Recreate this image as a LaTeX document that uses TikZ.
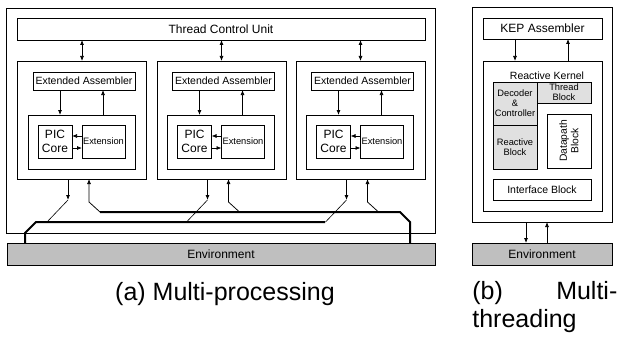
\documentclass[tikz,border=0pt]{standalone}
\usepackage{fontspec}
\setmainfont{Liberation Sans}
\usetikzlibrary{arrows.meta}

\begin{document}
\begin{tikzpicture}[x=1pt, y=-1pt, >={Latex[length=5pt,width=4pt]},
    line width=0.75pt,
    block/.style={draw, inner sep=0pt, outer sep=0pt, align=center},
    big/.style={font=\fontsize{12}{14}\selectfont},
    mid/.style={font=\fontsize{10.5}{12}\selectfont},
    small/.style={font=\fontsize{9.3}{10}\selectfont},
    shade/.style={fill=black!12},
    env/.style={block, fill=black!25, big},
    bus/.style={line width=2pt},
    wire/.style={line width=0.6pt},
    caption/.style={font=\fontsize{25}{28}\selectfont, inner sep=0pt}]
    \useasboundingbox (0,0) rectangle (621,337);

    % (a) multi-processing
    \node[block, minimum width=429pt, minimum height=225pt] (mp) at (220.5,120.5) {};
    \node[block, big, minimum width=408pt, minimum height=22pt] (tcu) at (221,29) {Thread Control Unit};
    \node[env, minimum width=428pt, minimum height=22pt] (enva) at (221,254) {Environment};

    \foreach \i/\x in {1/82, 2/221.5, 3/360.5} {
        \node[block, minimum width=129pt, minimum height=118pt] (proc\i) at (\x,120) {};
        \node[block, mid, minimum width=102pt, minimum height=18pt] (asm\i) at (\x+2,81) {Extended Assembler};
        \node[block, minimum width=107pt, minimum height=54pt] (core\i) at (\x-0.5,142) {};
        \node[block, big, minimum width=34pt, minimum height=33pt] (pic\i) at (\x-27,141.5) {PIC\\Core};
        \node[block, small, minimum width=43pt, minimum height=33pt] (ext\i) at (\x+21.5,141.5) {Extension};
        \coordinate (out\i) at (\x-14,200);
        \coordinate (in\i) at (\x+7,202);

        \draw[<->] (tcu.south -| proc\i.north) -- (proc\i.north);
        \draw[->] ([xshift=-24pt]asm\i.south) -- ([xshift=-24pt]asm\i.south |- core\i.north);
        \draw[->] ([xshift=19pt]asm\i.south |- core\i.north) -- ([xshift=19pt]asm\i.south);
        \draw[->] ([yshift=5.5pt]ext\i.west) -- ([yshift=5.5pt]pic\i.west -| pic\i.east);
        \draw[->] ([yshift=-6.5pt]pic\i.east) -- ([yshift=-6.5pt]pic\i.east -| ext\i.west);
        \draw[->] (out\i |- proc\i.south) -- (out\i);
        \draw[wire] (out\i) -- ++(-21,22);
        \draw[->] ([shift={(11,10)}]in\i) -- (in\i) -- (in\i |- proc\i.south);
    }

    % buses to the environment
    \coordinate (busa) at (25,233);
    \coordinate (busb) at (410,222);
    \draw[bus] (enva.north -| busa) -- (busa) -- ++(11,-11) -- (325,222);
    \draw[bus] (100,212) -- (400,212) -- (busb) -- (enva.north -| busb);

    % (b) multi-threading
    \node[block, minimum width=140pt, minimum height=215pt] (mt) at (542,114.5) {};
    \node[block, big, minimum width=119pt, minimum height=21pt] (kep) at (542.5,28.5) {KEP Assembler};
    \node[block, minimum width=119pt, minimum height=150pt] (kernel) at (542.5,136) {};
    \node[mid, inner sep=0pt, anchor=base] (kernlbl) at (547,80) {Reactive Kernel};
    \node[block, shade, small, minimum width=44pt, minimum height=43pt] (dec) at (515,103.5) {Decoder\\\&\\Controller};
    \node[block, shade, small, minimum width=44pt, minimum height=44pt] (reac) at (515,147) {Reactive\\Block};
    \node[block, shade, small, minimum width=54pt, minimum height=21pt] (thr) at (564,92.5) {Thread\\Block};
    \node[block, rotate=90, font=\fontsize{10.3}{11.5}\selectfont,
          minimum width=54pt, minimum height=44pt] (dp) at (569,141) {Datapath\\Block};
    \node[block, mid, minimum width=98pt, minimum height=21pt] (ifb) at (542,189.5) {Interface Block};
    \node[env, minimum width=140pt, minimum height=22pt] (envb) at (542,254) {Environment};

    \draw[->] ([xshift=-27.5pt]kep.south) -- ([xshift=-27.5pt]kep.south |- kernel.north);
    \draw[->] ([xshift=25.5pt]kep.south |- kernel.north) -- ([xshift=25.5pt]kep.south);
    \draw[->] ([xshift=-16pt]mt.south) -- ([xshift=-16pt]mt.south |- envb.north);
    \draw[->] ([xshift=5pt]mt.south |- envb.north) -- ([xshift=5pt]mt.south);

    % captions
    \node[caption, anchor=base] (capa) at (225,300) {(a) Multi-processing};
    \node[caption, anchor=north west, text width=145pt, align=left] (capb) at (472,281)
        {(b)\hfill Multi-\\threading};
\end{tikzpicture}
\end{document}
